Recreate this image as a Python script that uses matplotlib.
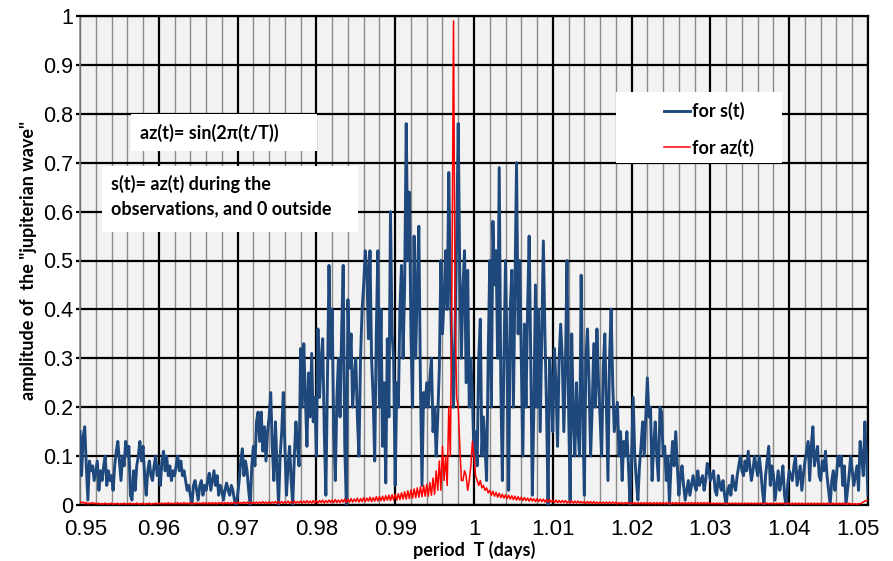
import numpy as np
import matplotlib
matplotlib.use("Agg")
import matplotlib.pyplot as plt
from matplotlib.patches import Rectangle
from matplotlib.transforms import ScaledTranslation

# Sampled periods T (days), one value every 0.0002 day
period = np.round(0.95 + 0.0002 * np.arange(501), 4)

# Amplitude of the "jupiterian wave" for s(t)
amp_s = [
    0.15, 0.06, 0.14, 0.16, 0.08, 0.01, 0.09, 0.07, 0.08, 0.05,
    0.07, 0.09, 0.03, 0.07, 0.05, 0.08, 0.10, 0.04, 0.07, 0.05,
    0.06, 0.03, 0.08, 0.11, 0.13, 0.09, 0.05, 0.10, 0.08, 0.13,
    0.10, 0.12, 0.02, 0.01, 0.07, 0.03, 0.08, 0.10, 0.13, 0.09,
    0.12, 0.06, 0.02, 0.07, 0.09, 0.06, 0.05, 0.08, 0.10, 0.06,
    0.08, 0.04, 0.09, 0.11, 0.07, 0.10, 0.06, 0.08, 0.05, 0.07,
    0.06, 0.08, 0.10, 0.07, 0.09, 0.06, 0.07, 0.05, 0.03, 0.04,
    0.02, 0.00, 0.04, 0.05, 0.03, 0.01, 0.04, 0.05, 0.02, 0.04,
    0.03, 0.05, 0.065, 0.03, 0.05, 0.07, 0.04, 0.06, 0.02, 0.04,
    0.03, 0.01, 0.03, 0.045, 0.03, 0.02, 0.04, 0.03, 0.01, 0.00,
    0.02, 0.05, 0.09, 0.115, 0.06, 0.09, 0.07, 0.03, 0.00, 0.08,
    0.12, 0.08, 0.17, 0.19, 0.13, 0.19, 0.11, 0.16, 0.09, 0.15,
    0.18, 0.23, 0.12, 0.05, 0.17, 0.08, 0.00, 0.10, 0.15, 0.23,
    0.12, 0.02, 0.08, 0.12, 0.05, 0.00, 0.10, 0.17, 0.12, 0.08,
    0.32, 0.20, 0.33, 0.22, 0.12, 0.27, 0.18, 0.31, 0.17, 0.22,
    0.10, 0.36, 0.22, 0.30, 0.34, 0.15, 0.02, 0.25, 0.49, 0.30,
    0.40, 0.15, 0.05, 0.22, 0.30, 0.18, 0.35, 0.49, 0.12, 0.00,
    0.42, 0.28, 0.35, 0.20, 0.26, 0.30, 0.18, 0.10, 0.30, 0.40,
    0.45, 0.52, 0.48, 0.34, 0.52, 0.30, 0.22, 0.09, 0.35, 0.52,
    0.20, 0.40, 0.12, 0.25, 0.045, 0.34, 0.18, 0.60, 0.35, 0.30,
    0.04, 0.25, 0.20, 0.40, 0.49, 0.30, 0.45, 0.78, 0.50, 0.64,
    0.35, 0.20, 0.55, 0.30, 0.45, 0.57, 0.25, 0.04, 0.23, 0.20,
    0.25, 0.20, 0.26, 0.30, 0.15, 0.20, 0.10, 0.18, 0.28, 0.50,
    0.35, 0.42, 0.52, 0.40, 0.68, 0.45, 0.30, 0.20, 0.35, 0.55,
    0.78, 0.46, 0.30, 0.45, 0.52, 0.25, 0.48, 0.20, 0.30, 0.22,
    0.10, 0.15, 0.08, 0.30, 0.38, 0.10, 0.18, 0.12, 0.05, 0.30,
    0.50, 0.20, 0.58, 0.45, 0.52, 0.30, 0.69, 0.25, 0.05, 0.30,
    0.50, 0.30, 0.03, 0.40, 0.48, 0.20, 0.45, 0.70, 0.35, 0.50,
    0.30, 0.10, 0.37, 0.20, 0.40, 0.55, 0.30, 0.02, 0.20, 0.45,
    0.20, 0.40, 0.15, 0.35, 0.54, 0.35, 0.20, 0.00, 0.30, 0.25,
    0.15, 0.32, 0.25, 0.12, 0.30, 0.37, 0.30, 0.15, 0.28, 0.50,
    0.20, 0.01, 0.35, 0.18, 0.10, 0.25, 0.15, 0.10, 0.47, 0.20,
    0.02, 0.30, 0.36, 0.25, 0.10, 0.20, 0.33, 0.20, 0.36, 0.25,
    0.18, 0.10, 0.28, 0.35, 0.20, 0.05, 0.30, 0.40, 0.25, 0.15,
    0.18, 0.21, 0.10, 0.15, 0.05, 0.13, 0.10, 0.15, 0.08, 0.00,
    0.10, 0.22, 0.10, 0.05, 0.01, 0.08, 0.12, 0.17, 0.10, 0.18,
    0.26, 0.18, 0.20, 0.05, 0.12, 0.17, 0.10, 0.05, 0.20, 0.19,
    0.10, 0.12, 0.05, 0.10, 0.00, 0.08, 0.13, 0.08, 0.15, 0.08,
    0.02, 0.06, 0.08, 0.04, 0.01, 0.03, 0.05, 0.02, 0.04, 0.06,
    0.04, 0.03, 0.07, 0.04, 0.05, 0.06, 0.03, 0.05, 0.085, 0.07,
    0.05, 0.06, 0.07, 0.03, 0.02, 0.06, 0.04, 0.03, 0.05, 0.02,
    0.00, 0.03, 0.04, 0.02, 0.06, 0.04, 0.03, 0.06, 0.08, 0.10,
    0.07, 0.06, 0.09, 0.07, 0.11, 0.08, 0.05, 0.07, 0.10, 0.08,
    0.06, 0.10, 0.07, 0.03, 0.00, 0.06, 0.09, 0.12, 0.04, 0.08,
    0.06, 0.01, 0.04, 0.07, 0.03, 0.05, 0.08, 0.02, 0.00, 0.04,
    0.07, 0.06, 0.05, 0.08, 0.10, 0.04, 0.06, 0.08, 0.03, 0.06,
    0.09, 0.11, 0.13, 0.05, 0.12, 0.16, 0.08, 0.10, 0.12, 0.06,
    0.05, 0.09, 0.07, 0.11, 0.06, 0.03, 0.00, 0.05, 0.07, 0.03,
    0.06, 0.10, 0.08, 0.10, 0.04, 0.08, 0.00, 0.03, 0.06, 0.10,
    0.07, 0.04, 0.06, 0.08, 0.03, 0.13, 0.10, 0.06, 0.17, 0.10, 0.02,
]

# Amplitude for az(t) (pure sine over the whole time)
amp_az = [
    0.007, 0.004, 0.006, 0.003, 0.005, 0.002, 0.004, 0.003, 0.005, 0.002,
    0.004, 0.002, 0.004, 0.001, 0.003, 0.002, 0.004, 0.001, 0.003, 0.002,
    0.004, 0.001, 0.003, 0.002, 0.004, 0.001, 0.003, 0.002, 0.004, 0.001,
    0.003, 0.002, 0.004, 0.001, 0.003, 0.002, 0.004, 0.001, 0.003, 0.002,
    0.004, 0.001, 0.003, 0.002, 0.004, 0.001, 0.003, 0.002, 0.004, 0.002,
    0.004, 0.002, 0.004, 0.002, 0.004, 0.002, 0.005, 0.002, 0.004, 0.002,
    0.004, 0.002, 0.005, 0.002, 0.004, 0.002, 0.005, 0.002, 0.004, 0.002,
    0.005, 0.002, 0.004, 0.002, 0.005, 0.002, 0.004, 0.002, 0.005, 0.002,
    0.005, 0.002, 0.005, 0.002, 0.005, 0.002, 0.005, 0.002, 0.005, 0.003,
    0.005, 0.002, 0.005, 0.003, 0.005, 0.002, 0.005, 0.003, 0.006, 0.003,
    0.006, 0.003, 0.005, 0.003, 0.006, 0.003, 0.006, 0.003, 0.006, 0.003,
    0.006, 0.003, 0.006, 0.003, 0.006, 0.003, 0.007, 0.003, 0.006, 0.003,
    0.007, 0.003, 0.006, 0.004, 0.007, 0.003, 0.007, 0.004, 0.007, 0.003,
    0.007, 0.004, 0.008, 0.003, 0.007, 0.004, 0.008, 0.004, 0.007, 0.004,
    0.008, 0.004, 0.008, 0.004, 0.009, 0.004, 0.008, 0.004, 0.009, 0.004,
    0.009, 0.004, 0.009, 0.005, 0.010, 0.004, 0.009, 0.005, 0.010, 0.005,
    0.010, 0.005, 0.011, 0.005, 0.010, 0.005, 0.011, 0.006, 0.012, 0.005,
    0.012, 0.006, 0.013, 0.006, 0.012, 0.007, 0.014, 0.006, 0.013, 0.007,
    0.015, 0.007, 0.014, 0.008, 0.016, 0.007, 0.015, 0.008, 0.017, 0.008,
    0.017, 0.009, 0.018, 0.008, 0.019, 0.010, 0.020, 0.009, 0.021, 0.010,
    0.022, 0.010, 0.023, 0.011, 0.025, 0.012, 0.027, 0.012, 0.029, 0.013,
    0.031, 0.014, 0.033, 0.015, 0.035, 0.016, 0.037, 0.017, 0.040, 0.018,
    0.042, 0.018, 0.046, 0.020, 0.055, 0.022, 0.070, 0.030, 0.090, 0.030,
    0.120, 0.050, 0.100, 0.040, 0.200, 0.100, 0.450, 0.990, 0.400, 0.220,
    0.200, 0.120, 0.050, 0.050, 0.070, 0.060, 0.030, 0.050, 0.080, 0.130,
    0.100, 0.060, 0.050, 0.040, 0.050, 0.035, 0.040, 0.030, 0.035, 0.025,
    0.030, 0.020, 0.028, 0.018, 0.026, 0.016, 0.024, 0.015, 0.022, 0.014,
    0.021, 0.013, 0.020, 0.012, 0.019, 0.011, 0.018, 0.010, 0.017, 0.010,
    0.016, 0.009, 0.015, 0.009, 0.014, 0.008, 0.014, 0.008, 0.013, 0.007,
    0.013, 0.007, 0.012, 0.007, 0.012, 0.006, 0.011, 0.006, 0.011, 0.006,
    0.010, 0.005, 0.010, 0.005, 0.009, 0.005, 0.009, 0.005, 0.009, 0.004,
    0.008, 0.004, 0.008, 0.004, 0.008, 0.004, 0.008, 0.004, 0.007, 0.004,
    0.007, 0.003, 0.007, 0.003, 0.007, 0.003, 0.007, 0.003, 0.006, 0.003,
    0.006, 0.003, 0.006, 0.003, 0.006, 0.003, 0.006, 0.003, 0.006, 0.003,
    0.006, 0.002, 0.005, 0.003, 0.005, 0.002, 0.005, 0.003, 0.005, 0.002,
    0.005, 0.002, 0.005, 0.002, 0.005, 0.002, 0.005, 0.002, 0.005, 0.002,
    0.005, 0.002, 0.005, 0.002, 0.005, 0.002, 0.005, 0.002, 0.005, 0.002,
    0.005, 0.002, 0.005, 0.002, 0.005, 0.002, 0.005, 0.002, 0.005, 0.002,
    0.005, 0.002, 0.005, 0.002, 0.005, 0.002, 0.005, 0.002, 0.005, 0.002,
    0.005, 0.002, 0.005, 0.002, 0.005, 0.002, 0.005, 0.002, 0.005, 0.002,
    0.004, 0.002, 0.004, 0.002, 0.004, 0.002, 0.004, 0.002, 0.004, 0.002,
    0.004, 0.002, 0.004, 0.002, 0.004, 0.002, 0.004, 0.002, 0.004, 0.002,
    0.004, 0.002, 0.004, 0.002, 0.004, 0.002, 0.004, 0.002, 0.004, 0.002,
    0.004, 0.002, 0.004, 0.002, 0.004, 0.002, 0.004, 0.002, 0.004, 0.002,
    0.004, 0.002, 0.004, 0.002, 0.004, 0.002, 0.004, 0.002, 0.004, 0.002,
    0.004, 0.001, 0.004, 0.001, 0.004, 0.001, 0.004, 0.001, 0.004, 0.001,
    0.004, 0.001, 0.004, 0.001, 0.004, 0.001, 0.004, 0.001, 0.004, 0.001,
    0.004, 0.001, 0.004, 0.001, 0.004, 0.001, 0.004, 0.001, 0.004, 0.001,
    0.004, 0.001, 0.004, 0.001, 0.004, 0.001, 0.004, 0.001, 0.004, 0.001,
    0.003, 0.001, 0.003, 0.001, 0.003, 0.002, 0.004, 0.006, 0.008, 0.009, 0.010,
]

x_ticks = [0.95, 0.96, 0.97, 0.98, 0.99, 1.0, 1.01, 1.02, 1.03, 1.04, 1.05]
x_labels = ["0.95", "0.96", "0.97", "0.98", "0.99", "1",
            "1.01", "1.02", "1.03", "1.04", "1.05"]
y_ticks = [0, 0.1, 0.2, 0.3, 0.4, 0.5, 0.6, 0.7, 0.8, 0.9, 1.0]
y_labels = ["0", "0.1", "0.2", "0.3", "0.4", "0.5",
            "0.6", "0.7", "0.8", "0.9", "1"]

blue = "#1f497d"
bold_font = ["Lato", "DejaVu Sans"]
tick_font = ["Liberation Sans", "DejaVu Sans"]

W, H = 893, 561
fig = plt.figure(figsize=(W / 100, H / 100), dpi=100)
ax = fig.add_axes([80 / W, 1 - 505 / H, 788 / W, 489 / H])
ax.set_facecolor("#f2f2f2")

# data
ax.plot(period, amp_s, color=blue, lw=2.1, zorder=4, label="for s(t)")
ax.plot(period, amp_az, color="red", lw=1.1, zorder=5, label="for az(t)")

ax.set_xlim(0.95, 1.05)
ax.set_ylim(0, 1)
ax.set_xticks(x_ticks)
ax.set_xticklabels(x_labels, fontfamily=tick_font, fontsize=16)
ax.set_xticks(np.arange(0.952, 1.05, 0.002), minor=True)
ax.set_yticks(y_ticks)
ax.set_yticklabels(y_labels, fontfamily=tick_font, fontsize=15.5)

# grid lines
ax.grid(which="major", axis="both", color="black", lw=1.6, zorder=1)
ax.grid(which="minor", axis="x", color="#8a8a8a", lw=1.0, zorder=1)
ax.set_axisbelow(True)
ax.tick_params(axis="x", which="both", length=0, pad=10)
ax.tick_params(axis="y", which="major", length=3, width=1.6, pad=2)

for side in ["top", "right", "bottom"]:
    ax.spines[side].set_color("black")
    ax.spines[side].set_linewidth(1.6)
ax.spines["left"].set_color("#8a8a8a")
ax.spines["left"].set_linewidth(1.2)

# edge tick labels pulled inward a little, like the original
labels = ax.get_xticklabels()
labels[0].set_transform(labels[0].get_transform() + ScaledTranslation(6 / 100, 0, fig.dpi_scale_trans))
labels[-1].set_transform(labels[-1].get_transform() + ScaledTranslation(-10 / 100, 0, fig.dpi_scale_trans))

ax.set_xlabel("period  T (days)", fontfamily=bold_font, fontweight="bold",
              fontsize=13, labelpad=1)
ax.set_ylabel('amplitude of  the "jupiterian wave"', fontfamily=bold_font,
              fontweight="bold", fontsize=13, labelpad=4)


# white annotation boxes (pixel positions of the original layout)
def box(x0, y0, x1, y1):
    ax.add_patch(Rectangle((x0 / W, 1 - y1 / H), (x1 - x0) / W, (y1 - y0) / H,
                           transform=fig.transFigure, facecolor="white",
                           edgecolor="none", zorder=3, clip_on=False))


box(131, 114, 317, 151)
fig.text(140 / W, 1 - 133 / H, "az(t)= sin(2\u03c0(t/T))", fontfamily=bold_font,
         fontweight="bold", fontsize=13, va="center", ha="left", zorder=6)

box(102, 166, 358, 232)
fig.text(111 / W, 1 - 184 / H, "s(t)= az(t) during the", fontfamily=bold_font,
         fontweight="bold", fontsize=13, va="center", ha="left", zorder=6)
fig.text(111 / W, 1 - 209 / H, "observations, and 0 outside", fontfamily=bold_font,
         fontweight="bold", fontsize=13, va="center", ha="left", zorder=6)

box(616, 92, 782, 163)
leg = ax.legend(loc="upper left", bbox_to_anchor=(648 / W, 1 - 86 / H),
                bbox_transform=fig.transFigure, frameon=False,
                prop={"family": bold_font, "weight": "bold", "size": 13},
                handlelength=1.4, handletextpad=0.12, labelspacing=1.0)
leg.set_zorder(7)

fig.savefig("out.png", dpi=100)
